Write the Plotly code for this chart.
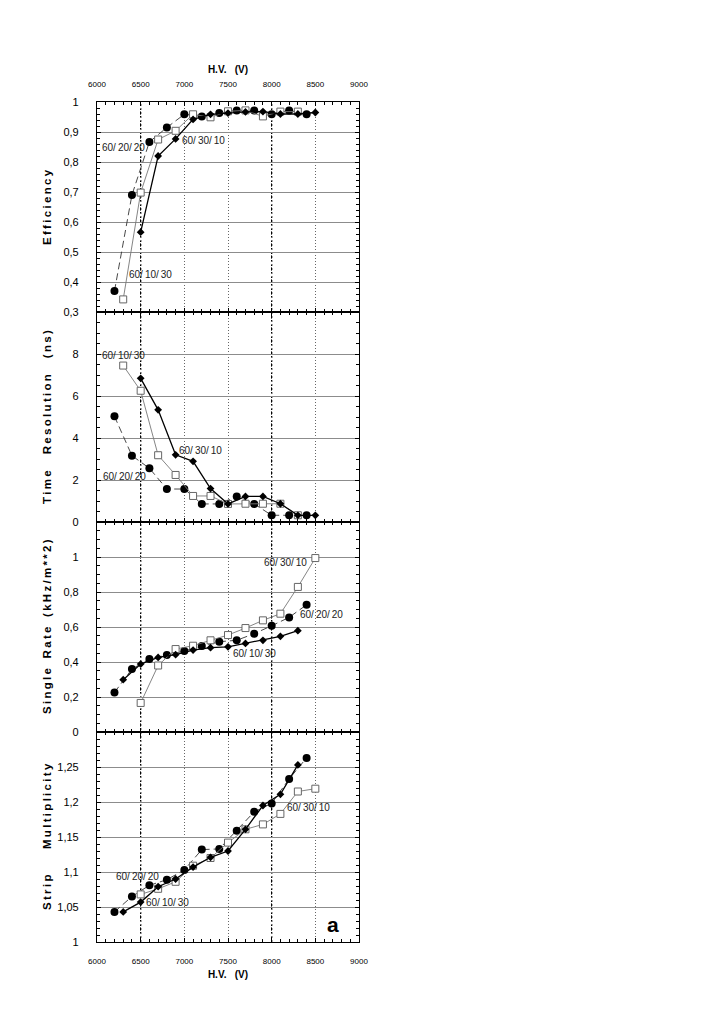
import plotly.graph_objects as go
from plotly.subplots import make_subplots

# ---------------- data ----------------
hv_even = [6200, 6400, 6600, 6800, 7000, 7200, 7400, 7600, 7800, 8000, 8200, 8400]
hv_odd_a = [6300, 6500, 6700, 6900, 7100, 7300, 7500, 7700, 7900, 8100, 8300]
hv_odd_b = [6500, 6700, 6900, 7100, 7300, 7500, 7700, 7900, 8100, 8300, 8500]

# Efficiency
eff_circ = [0.37, 0.69, 0.867, 0.915, 0.959, 0.952, 0.963, 0.972, 0.972, 0.959, 0.972, 0.959]
eff_sq = [0.342, 0.698, 0.875, 0.904, 0.959, 0.949, 0.969, 0.972, 0.952, 0.968, 0.968]
eff_dia = [0.566, 0.82, 0.877, 0.942, 0.959, 0.963, 0.967, 0.968, 0.96, 0.96, 0.965]

# Time resolution (ns)
t_circ = [5.03, 3.16, 2.56, 1.57, 1.57, 0.86, 0.86, 1.22, 0.86, 0.32, 0.32, 0.32]
t_sq = [7.45, 6.25, 3.18, 2.24, 1.24, 1.24, 0.86, 0.87, 0.87, 0.87, 0.32]
t_dia = [6.84, 5.34, 3.2, 2.89, 1.59, 0.86, 1.22, 1.22, 0.87, 0.32, 0.32]

# Single rate (kHz/m**2)
r_circ = [0.226, 0.36, 0.417, 0.44, 0.463, 0.491, 0.516, 0.524, 0.562, 0.607, 0.655, 0.727]
r_dia = [0.299, 0.388, 0.426, 0.442, 0.468, 0.482, 0.487, 0.506, 0.524, 0.547, 0.579]
r_sq = [0.166, 0.38, 0.474, 0.493, 0.524, 0.554, 0.594, 0.638, 0.676, 0.829, 0.994]

# Strip multiplicity
s_circ = [1.043, 1.065, 1.081, 1.089, 1.103, 1.132, 1.133, 1.159, 1.186, 1.198, 1.233, 1.263]
s_dia = [1.043, 1.057, 1.079, 1.09, 1.107, 1.121, 1.130, 1.161, 1.195, 1.211, 1.253]
s_sq = [1.068, 1.076, 1.086, 1.109, 1.12, 1.142, 1.161, 1.168, 1.183, 1.215, 1.219]

x_ticks = [6000, 6500, 7000, 7500, 8000, 8500, 9000]
x_ticktext = ["6000", "6500", "7000", "7500", "8000", "8500", "9000"]
dark_grid = [6500, 8000]

eff_ticks = [0.3, 0.4, 0.5, 0.6, 0.7, 0.8, 0.9, 1.0]
eff_ticktext = ["0,3", "0,4", "0,5", "0,6", "0,7", "0,8", "0,9", "1"]
t_ticks = [0, 2, 4, 6, 8]
t_ticktext = ["0", "2", "4", "6", "8"]
r_ticks = [0, 0.2, 0.4, 0.6, 0.8, 1.0]
r_ticktext = ["0", "0,2", "0,4", "0,6", "0,8", "1"]
s_ticks = [1.0, 1.05, 1.1, 1.15, 1.2, 1.25]
s_ticktext = ["1", "1,05", "1,1", "1,15", "1,2", "1,25"]

# labels: (row, text, x, y)
labels = [
    (1, "60/20/20", 6305, 0.848), (1, "60/30/10", 7221, 0.873), (1, "60/10/30", 6610, 0.425),
    (2, "60/10/30", 6305, 7.94), (2, "60/30/10", 7190, 3.39), (2, "60/20/20", 6313, 2.15),
    (3, "60/30/10", 8160, 0.966), (3, "60/20/20", 8565, 0.67), (3, "60/10/30", 7801, 0.446),
    (4, "60/30/10", 8427, 1.192), (4, "60/20/20", 6465, 1.093), (4, "60/10/30", 6808, 1.057),
]
y_titles = [["Efficiency"], ["Time", "Resolution", "(ns)"],
            ["Single", "Rate", "(kHz/m**2)"], ["Strip", "Multiplicity"]]
y_title_gaps = [1, 5, 3, 8]

# ---------------- figure ----------------
FONT = "Liberation Sans, Arial, sans-serif"
fig = make_subplots(rows=4, cols=1, shared_xaxes=True, vertical_spacing=0)

panels = [
    (1, eff_circ, eff_sq, hv_odd_a, eff_dia, hv_odd_b),
    (2, t_circ, t_sq, hv_odd_a, t_dia, hv_odd_b),
    (3, r_circ, r_sq, hv_odd_b, r_dia, hv_odd_a),
    (4, s_circ, s_sq, hv_odd_b, s_dia, hv_odd_a),
]
for row, yc, ys, xs, yd, xd in panels:
    fig.add_trace(go.Scatter(x=hv_even, y=yc, mode="lines+markers",
                             line=dict(color="#333", width=0.9, dash="7px,4px"),
                             marker=dict(symbol="circle", size=8, color="black"),
                             showlegend=False), row=row, col=1)
    fig.add_trace(go.Scatter(x=xs, y=ys, mode="lines+markers",
                             line=dict(color="#777", width=0.9),
                             marker=dict(symbol="square", size=7, color="white",
                                         line=dict(color="#666", width=1)),
                             showlegend=False), row=row, col=1)
    fig.add_trace(go.Scatter(x=xd, y=yd, mode="lines+markers",
                             line=dict(color="black", width=1.3),
                             marker=dict(symbol="diamond", size=6, color="black"),
                             showlegend=False), row=row, col=1)

axis_common = dict(showline=True, linecolor="black", linewidth=1.2, mirror="allticks",
                   ticks="inside", ticklen=4, tickcolor="black", zeroline=False)

for i in range(1, 5):
    fig.update_xaxes(range=[6000, 9000], tickvals=x_ticks, ticktext=x_ticktext,
                     showgrid=True, gridcolor="#666", griddash="1px,2px", gridwidth=1,
                     minor=dict(ticks="inside", ticklen=3, dtick=100, tickcolor="black",
                                showgrid=False),
                     tickfont=dict(family=FONT, size=8, color="black"),
                     ticklabelstandoff=11,
                     row=i, col=1, **axis_common)

title_font = dict(family=FONT, size=10, color="black", weight="bold")
fig.update_xaxes(showticklabels=True, side="top",
                 title=dict(text="H.V.\u00a0\u00a0\u00a0(V)", font=title_font, standoff=4),
                 row=1, col=1)
fig.update_xaxes(showticklabels=True,
                 title=dict(text="H.V.\u00a0\u00a0\u00a0(V)", font=title_font, standoff=6),
                 row=4, col=1)

yspecs = [
    (1, [0.3, 1.0], eff_ticks, eff_ticktext, 0.02),
    (2, [0, 10], t_ticks, t_ticktext, 0.5),
    (3, [0, 1.2], r_ticks, r_ticktext, 0.05),
    (4, [1.0, 1.3], s_ticks, s_ticktext, 0.01),
]
for row, rng, tv, tt, mdt in yspecs:
    fig.update_yaxes(range=rng, tickvals=tv, ticktext=tt,
                     showgrid=True, gridcolor="#8c8c8c", gridwidth=1.4,
                     minor=dict(ticks="inside", ticklen=3, dtick=mdt, tick0=rng[0],
                                tickcolor="black", showgrid=False),
                     tickfont=dict(family=FONT, size=11, color="black"),
                     ticklabelstandoff=15,
                     row=row, col=1, **axis_common)

# darker dotted vertical lines
for xv in dark_grid:
    fig.add_shape(type="line", xref="x4", yref="paper", x0=xv, x1=xv, y0=0, y1=1,
                  line=dict(color="black", width=1.3, dash="2px,2px"), layer="below")

# curve labels
for row, txt, xv, yv in labels:
    suffix = "" if row == 1 else str(row)
    fig.add_annotation(x=xv, y=yv, xref="x" + suffix, yref="y" + suffix,
                       text=txt.replace("/", "/\u2009"),
                       showarrow=False, font=dict(family=FONT, size=10, color="#222"),
                       xanchor="center", yanchor="middle")

# y titles (letter-spaced)
for i, words in enumerate(y_titles):
    suffix = "" if i == 0 else str(i + 1)
    gap = "\u00a0" * y_title_gaps[i]
    txt = gap.join("\u2009".join(list(w)) for w in words)
    fig.add_annotation(x=0, y=0.5, xref="paper", yref="y" + suffix + " domain",
                       text=txt, textangle=-90, showarrow=False, xshift=-50,
                       xanchor="center", yanchor="middle",
                       font=dict(family=FONT, size=11.5, color="black", weight="bold"))

fig.add_annotation(x=8705, y=1.025, xref="x4", yref="y4", text="a", showarrow=False,
                   font=dict(family=FONT, size=21, color="black", weight="bold"))

# page body has an 8px margin, so the figure is sized 8px smaller
fig.update_layout(width=700, height=1027, plot_bgcolor="white", paper_bgcolor="white",
                  margin=dict(l=89, r=349, t=94, b=93), showlegend=False)

fig.write_html("out.html")
